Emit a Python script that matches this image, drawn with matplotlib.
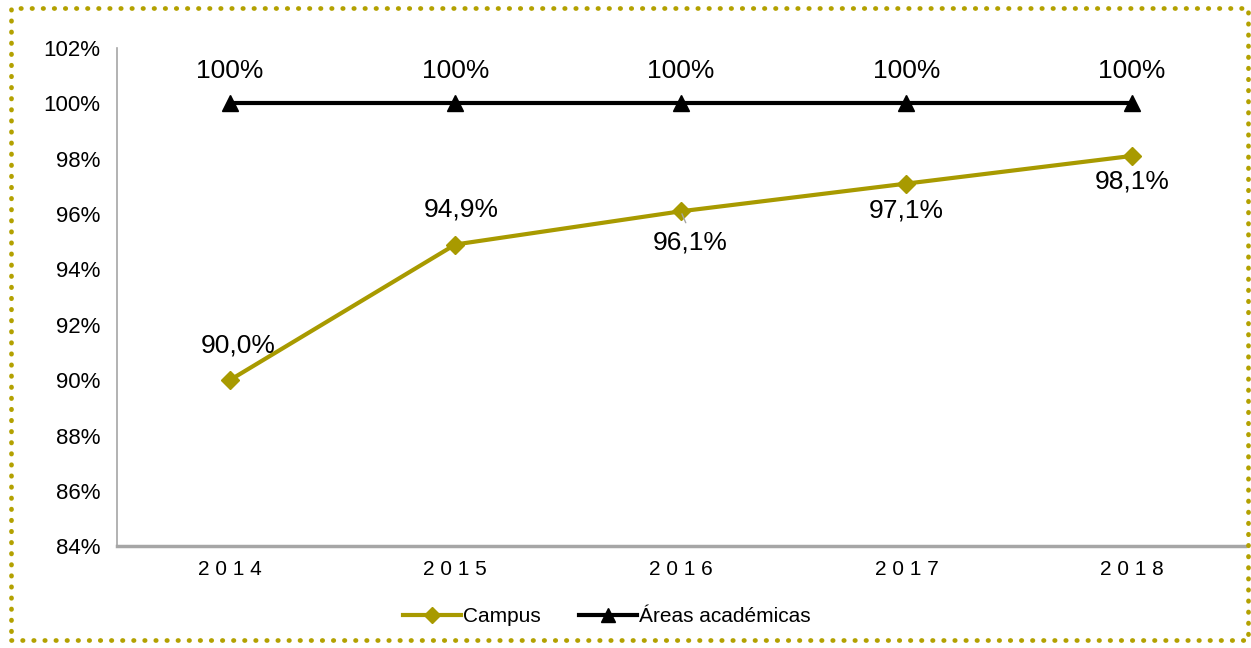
import numpy as np
import matplotlib.pyplot as plt
import matplotlib
from matplotlib.patches import Rectangle
from matplotlib.lines import Line2D

matplotlib.rcParams['font.family'] = ['Liberation Sans', 'DejaVu Sans']

years = ['2014', '2015', '2016', '2017', '2018']
campus = [90.0, 94.9, 96.1, 97.1, 98.1]
areas = [100, 100, 100, 100, 100]
campus_labels = ['90,0%', '94,9%', '96,1%', '97,1%', '98,1%']
areas_labels = ['100%', '100%', '100%', '100%', '100%']

olive = '#A89A00'
gray = '#A6A6A6'

fig = plt.figure(figsize=(12.51, 6.48), dpi=100)
ax = fig.add_axes([0.0935, 0.157, 0.9015, 0.769])

x = np.arange(len(years))
ax.plot(x, campus, color=olive, lw=3, marker='D', ms=9, label='Campus')
ax.plot(x, areas, color='black', lw=3, marker='^', ms=11, label='Áreas académicas')

# data labels, offsets in pixels
campus_off = [(8, 35), (6, 35), (9, -31), (0, -27), (0, -26)]
for i in range(len(years)):
    ax.annotate(campus_labels[i], (x[i], campus[i]), xytext=campus_off[i],
                textcoords='offset pixels', ha='center', va='center', fontsize=19)
    ax.annotate(areas_labels[i], (x[i], areas[i]), xytext=(0, 32),
                textcoords='offset pixels', ha='center', va='center', fontsize=19)
# small leader line for 2016
ax.annotate('', (x[2], campus[2]), xytext=(6, -14), textcoords='offset pixels',
            arrowprops=dict(arrowstyle='-', color=gray, lw=1))

ax.set_xlim(-0.5, 4.5)
ax.set_ylim(84, 102)
ax.set_yticks(np.arange(84, 103, 2))
ax.set_yticklabels([f'{v}%' for v in range(84, 103, 2)], fontsize=16)
ax.set_xticks(x)
ax.set_xticklabels([' '.join(y) for y in years], fontsize=15)
ax.tick_params(axis='y', length=0, pad=12)
ax.tick_params(axis='x', length=0, pad=10)

for s in ['top', 'right']:
    ax.spines[s].set_visible(False)
ax.spines['left'].set_color(gray)
ax.spines['left'].set_linewidth(1.2)
ax.spines['bottom'].set_color(gray)
ax.spines['bottom'].set_linewidth(2.5)

handles = [Line2D([], [], color=olive, lw=3, marker='D', ms=8),
           Line2D([], [], color='black', lw=3, marker='^', ms=10)]
fig.legend(handles, ['Campus', 'Áreas académicas'], loc='center',
           bbox_to_anchor=(0.485, 0.048), ncol=2, frameon=False,
           prop={'size': 15}, handlelength=2.8, handletextpad=0.1,
           columnspacing=1.8)

# dotted frame around the whole chart
border = Rectangle((11 / 1251, 8 / 648), 1237 / 1251, 632 / 648,
                   transform=fig.transFigure, fill=False, edgecolor='#B3A100',
                   lw=3.4, linestyle=(0, (0.1, 2.25)), capstyle='round',
                   clip_on=False)
fig.add_artist(border)

plt.savefig('out.png', dpi=100)
